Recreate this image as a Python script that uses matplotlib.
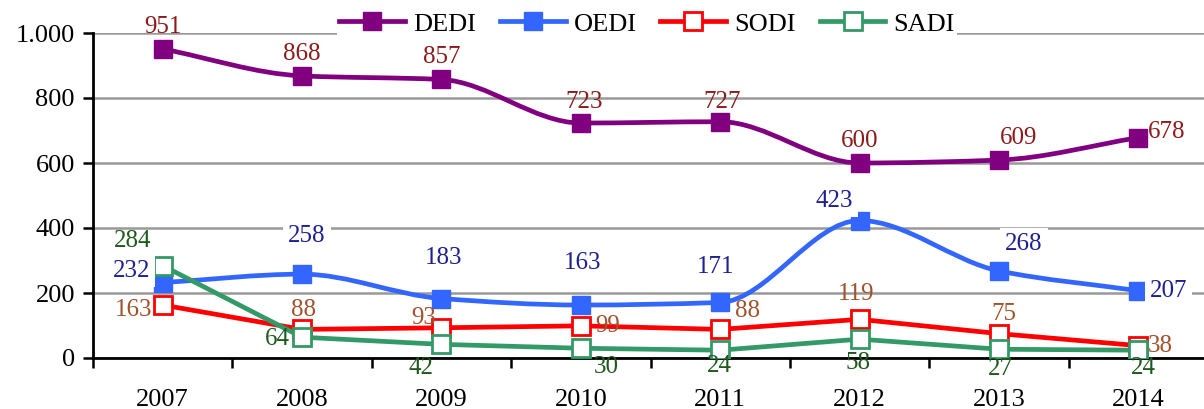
import numpy as np
import matplotlib.pyplot as plt
from matplotlib.path import Path
from matplotlib.patches import PathPatch
from matplotlib.lines import Line2D

plt.rcParams['font.family'] = ['Liberation Serif', 'DejaVu Serif']

years = ['2007', '2008', '2009', '2010', '2011', '2012', '2013', '2014']
dedi = [951, 868, 857, 723, 727, 600, 609, 678]
oedi = [232, 258, 183, 163, 171, 423, 268, 207]
sodi = [163, 88, 93, 99, 88, 119, 75, 38]
sadi = [284, 64, 42, 30, 24, 58, 27, 24]

x = np.arange(len(years))


def smooth_path(xs, ys):
    # smoothed line drawn as cubic bezier segments through the points,
    # monotone tangents so it does not wave between flat points
    xs = np.asarray(xs, float)
    ys = np.asarray(ys, float)
    d = np.diff(ys) / np.diff(xs)
    m = np.zeros_like(ys)
    m[0], m[-1] = d[0], d[-1]
    for i in range(1, len(ys) - 1):
        if d[i - 1] * d[i] > 0:
            m[i] = 2.0 / (1.0 / d[i - 1] + 1.0 / d[i])
    verts = [(xs[0], ys[0])]
    codes = [Path.MOVETO]
    for i in range(len(xs) - 1):
        h = xs[i + 1] - xs[i]
        verts += [(xs[i] + h / 3, ys[i] + m[i] * h / 3),
                  (xs[i + 1] - h / 3, ys[i + 1] - m[i + 1] * h / 3),
                  (xs[i + 1], ys[i + 1])]
        codes += [Path.CURVE4] * 3
    return Path(verts, codes)


fig = plt.figure(figsize=(12.04, 4.09), dpi=100)
ax = fig.add_axes([93 / 1204, 51 / 409, 1115 / 1204, 325 / 409])

c_dedi, c_oedi, c_sodi, c_sadi = '#800080', '#3366FF', '#FF0000', '#339966'
lw = 3.4
ms = 12.5

ax.add_patch(PathPatch(smooth_path(x, dedi), fill=False, ec=c_dedi, lw=lw, zorder=3))
ax.add_patch(PathPatch(smooth_path(x, oedi), fill=False, ec=c_oedi, lw=lw, zorder=3))
ax.plot(x, sodi, color=c_sodi, lw=lw, zorder=3)
ax.plot(x, sadi, color=c_sadi, lw=lw, zorder=3)

ax.plot(x, dedi, ls='none', marker='s', ms=ms, color=c_dedi, zorder=4)
ax.plot(x, oedi, ls='none', marker='s', ms=ms, color=c_oedi, zorder=4)
ax.plot(x, sodi, ls='none', marker='s', ms=ms, mfc='white', mec=c_sodi, mew=2, zorder=5)
ax.plot(x, sadi, ls='none', marker='s', ms=ms, mfc='white', mec=c_sadi, mew=2, zorder=5)

fs = 18
# label offsets in pixels (dx, dy), converted to points below
off_dedi = [(0, 22), (0, 22), (0, 22), (3, 21), (2, 20), (0, 22), (20, 22), (28, 6)]
off_oedi = [(-31, 12), (5, 38), (2, 41), (2, 42), (-5, 35), (-25, 20), (25, 27), (30, 0)]
off_sodi = [(-29, -5), (1, 19), (-18, 10), (27, 0), (27, 18), (-3, 25), (5, 20), (22, 0)]
off_sadi = [(-30, 25), (-25, -2), (-20, -24), (25, -19), (-1, -16), (-2, -24), (1, -20), (5, -18)]

for vals, offs, col, boxed in [(dedi, off_dedi, '#8B1A1A', False),
                               (oedi, off_oedi, '#1F1F8F', True),
                               (sodi, off_sodi, '#A0522D', False),
                               (sadi, off_sadi, '#1E5A1E', False)]:
    for xi, v, (dx, dy) in zip(x, vals, offs):
        kw = {}
        if boxed:
            kw['bbox'] = dict(boxstyle='square,pad=0.2', fc='white', ec='none')
        ax.annotate(str(v), (xi, v), xytext=(dx * 0.72, dy * 0.72), textcoords='offset points',
                    ha='center', va='center', color=col, fontsize=fs, zorder=6, **kw)

ax.set_xlim(-0.5, 7.5)
ax.set_ylim(0, 1000)
ax.set_yticks([0, 200, 400, 600, 800, 1000])
ax.set_yticklabels(['0', '200', '400', '600', '800', '1.000'], fontsize=19)
ax.yaxis.grid(True, color='#999999', lw=1.8)
ax.set_axisbelow(True)

ax.set_xticks(np.arange(-0.5, 8, 1))
ax.set_xticklabels([])
ax.set_xticks(x, minor=True)
ax.set_xticklabels(years, minor=True, fontsize=19)
ax.tick_params(axis='x', which='major', direction='out', length=7, width=1.8)
ax.tick_params(axis='x', which='minor', length=0, pad=22)
ax.tick_params(axis='y', direction='out', length=7, width=1.8, pad=6)

for s in ['top', 'right']:
    ax.spines[s].set_visible(False)
ax.spines['left'].set_linewidth(2)
ax.spines['bottom'].set_linewidth(2)

handles = [
    Line2D([], [], color=c_dedi, lw=lw, marker='s', ms=ms),
    Line2D([], [], color=c_oedi, lw=lw, marker='s', ms=ms),
    Line2D([], [], color=c_sodi, lw=lw, marker='s', ms=ms, mfc='white', mew=2),
    Line2D([], [], color=c_sadi, lw=lw, marker='s', ms=ms, mfc='white', mew=2),
]
leg = fig.legend(handles, ['DEDI', 'OEDI', 'SODI', 'SADI'], loc='center',
                 bbox_to_anchor=(647 / 1204, 1 - 24 / 409), ncol=4, frameon=True,
                 fontsize=19, handlelength=2.5, handletextpad=0.3, columnspacing=0.9,
                 borderpad=0.1, borderaxespad=0, fancybox=False)
leg.get_frame().set_facecolor('white')
leg.get_frame().set_edgecolor('none')
leg.get_frame().set_alpha(1)

fig.savefig('out.png', dpi=100)
